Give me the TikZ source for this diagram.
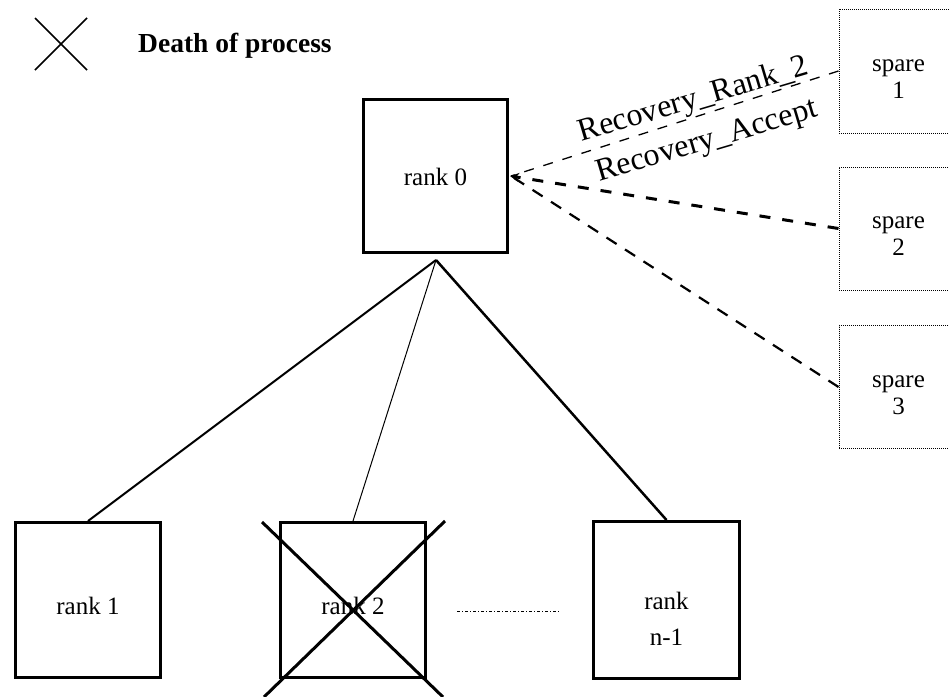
\documentclass[tikz,border=0pt]{standalone}
\usepackage{fontspec}
\setmainfont{Liberation Serif}
\usetikzlibrary{arrows.meta,calc}
\begin{document}
\begin{tikzpicture}[x=1pt,y=-1pt,
  rankbox/.style={draw, line width=3pt, minimum width=145pt, minimum height=155pt, inner sep=0pt},
  boxtext/.style={inner sep=0pt, align=center, font=\fontsize{25}{36}\selectfont},
  sparebox/.style={draw, line width=1pt, dash pattern=on 1pt off 1pt, minimum width=119pt, minimum height=123pt, inner sep=0pt},
  sparetext/.style={inner sep=0pt, align=center, font=\fontsize{25}{27}\selectfont},
  treeline/.style={line width=2pt},
  msgline/.style={dash pattern=on 10pt off 10pt},
  msglabel/.style={font=\fontsize{32}{32}\selectfont, anchor=base, rotate=16.5, inner sep=0pt},
  deathcross/.style={line width=3pt}
]
\useasboundingbox (0,0) rectangle (949,696);
\clip (0,0) rectangle (949,696);

% legend
\draw[line width=1.5pt] (35,18) -- (87,70) (87,18) -- (35,70);
\node[anchor=base west, inner sep=0pt, font=\bfseries\fontsize{27.5}{30}\selectfont] (legend) at (138,52) {Death of process};

% rank boxes
\node[rankbox, minimum width=144pt, minimum height=153pt] (r0) at (435.5,176) {};
\node[boxtext] (r0t) at ($(r0.center)+(0,1)$) {rank 0};
\node[rankbox] (r1) at (88,600) {};
\node[boxtext] (r1t) at ($(r1.center)+(0,6)$) {rank 1};
\node[rankbox] (r2) at (353,600) {};
\node[boxtext] (r2t) at ($(r2.center)+(0,6)$) {rank 2};
\node[rankbox, minimum width=146pt, minimum height=157pt] (rn) at (666.5,600) {};
\node[boxtext] (rnt) at ($(rn.center)+(0,19)$) {rank\\n-1};

% spare boxes
\node[sparebox, minimum height=124pt] (s1) at (898.5,71) {};
\node[sparetext] (s1t) at ($(s1.center)+(0,8)$) {spare\\1};
\node[sparebox] (s2) at (898.5,228.5) {};
\node[sparetext] (s2t) at ($(s2.center)+(0,8)$) {spare\\2};
\node[sparebox] (s3) at (898.5,387) {};
\node[sparetext] (s3t) at ($(s3.center)+(0,8)$) {spare\\3};

% tree connectors
\coordinate (apex) at ($(r0.south)+(0.5,6)$);
\draw[treeline] (apex) -- (r1.north);
\draw[line width=1pt] (apex) -- (r2.north);
\draw[line width=2.5pt] (apex) -- (rn.north);

% message connectors
\draw[msgline, line width=1.3pt] (s1.west) -- ([xshift=2pt]r0.east);
\draw[msgline, line width=3pt, dash pattern=on 11pt off 12pt, -{Stealth[length=9pt,width=9pt]}] (s2.west) -- ([xshift=1pt]r0.east);
\draw[msgline, line width=2.2pt, dash pattern=on 12pt off 10pt] (s3.west) -- ([xshift=2pt]r0.east);

\node[msglabel] (lbl1) at (696,108) {Recovery\_Rank\_2};
\node[msglabel] (lbl2) at (709,149) {Recovery\_Accept};

% death of rank 2
\draw[deathcross] (262,522) -- (443,697);
\draw[deathcross] (445,521) -- (264,697);

% ellipsis between rank 2 and rank n-1
\draw[line width=1pt, dash pattern=on 3pt off 2pt on 1pt off 2pt] (457,611) -- (560,611);
\end{tikzpicture}
\end{document}
